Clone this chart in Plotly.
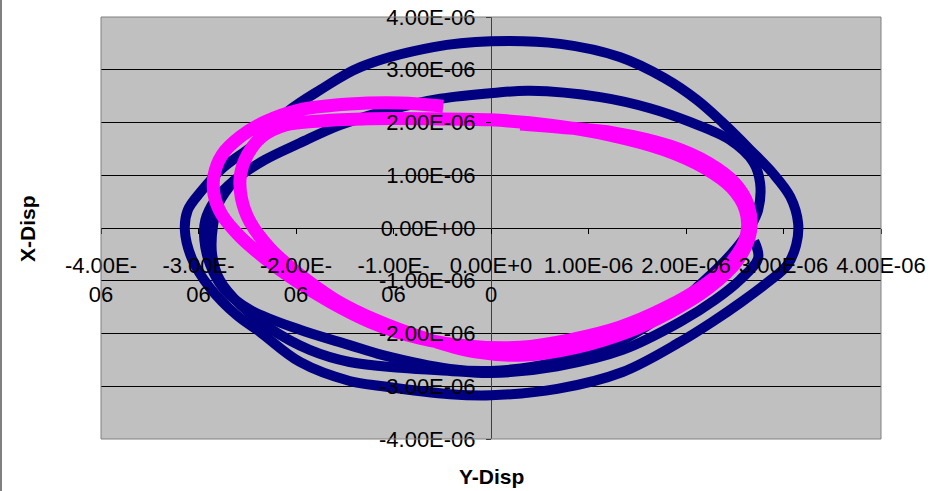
import plotly.graph_objects as go

SCALE = 1e-6  # values below are in units of 1e-6

# Navy series (Series 1) - outer loop
navy_a_x = [0.00, 0.71, 1.32, 1.78, 2.11, 2.38, 2.66, 2.89, 3.07, 3.15, 3.13, 3.04, 2.83, 2.57, 2.27, 1.94, 1.35, 0.68, 0.00,
            -0.42, -1.11, -1.45, -1.96, -2.37, -2.61, -2.88, -3.07, -3.14, -3.11, -2.98, -2.75, -2.44, -2.09, -1.75, -1.34, -0.59, 0.00]
navy_a_y = [3.54, 3.49, 3.24, 2.84, 2.43, 1.99, 1.48, 1.04, 0.59, 0.09, -0.32, -0.70, -1.04, -1.40, -1.78, -2.16, -2.73, -3.05, -3.17,
            -3.15, -3.00, -2.90, -2.54, -1.97, -1.65, -1.14, -0.57, -0.04, 0.34, 0.68, 1.14, 1.57, 2.20, 2.62, 3.05, 3.43, 3.54]
# Navy series - inner loop
navy_b_x = [0.02, 0.40, 1.12, 1.63, 2.04, 2.45, 2.69, 2.76, 2.74, 2.66, 2.58, 2.38, 2.14, 1.84, 1.35, 0.68, 0.00,
            -0.42, -1.11, -1.45, -1.96, -2.47, -2.73, -2.88, -2.94, -2.93, -2.83, -2.63, -2.32, -1.96, -1.55, -1.04, -0.52, 0.02]
navy_b_y = [2.56, 2.60, 2.48, 2.27, 2.01, 1.67, 1.25, 0.85, 0.34, 0.02, -0.23, -0.66, -1.08, -1.55, -2.12, -2.54, -2.71,
            -2.67, -2.41, -2.22, -1.93, -1.55, -1.18, -0.70, -0.23, 0.15, 0.53, 0.91, 1.29, 1.61, 1.95, 2.24, 2.45, 2.56]
# Navy series - partial middle loop
navy_c_x = [-2.63, -2.79, -2.85, -2.86, -2.78, -2.57, -2.27, -1.86, -1.45, -0.93, -0.42, 0.00, 0.68, 1.35, 1.94, 2.30,
            2.55, 2.74, 2.70]
navy_c_y = [0.91, 0.48, 0.06, -0.51, -0.99, -1.46, -1.90, -2.31, -2.54, -2.65, -2.71, -2.75, -2.62, -2.31, -1.78, -1.36,
            -0.99, -0.57, -0.25]

# Magenta series (Series 2)
magenta_x = [-0.49, -0.93, -1.45, -1.96, -2.32, -2.57, -2.76, -2.84, -2.84, -2.76, -2.57, -2.32, -2.01, -1.65, -1.24, -0.73, -0.22,
             0.30, 0.81, 1.32, 1.78, 2.19, 2.48, 2.62, 2.61, 2.47, 2.19, 1.78, 1.22, 0.61, -0.01,
             -0.63, -1.24, -1.75, -2.11, -2.35, -2.50, -2.57, -2.56, -2.47, -2.27, -1.96, -1.60, -1.19, -0.68, -0.16,
             0.35, 0.86, 1.37, 1.82, 2.23, 2.53, 2.66, 2.64, 2.50, 2.23, 1.84, 1.27, 0.71, 0.30]
magenta_y = [2.31, 2.37, 2.35, 2.24, 2.01, 1.73, 1.38, 1.00, 0.63, 0.25, -0.17, -0.57, -0.99, -1.40, -1.78, -2.09, -2.24,
             -2.26, -2.12, -1.88, -1.52, -1.08, -0.61, -0.13, 0.34, 0.76, 1.14, 1.48, 1.76, 1.95, 2.05,
             2.07, 2.07, 2.03, 1.95, 1.73, 1.38, 1.00, 0.57, 0.11, -0.38, -0.89, -1.36, -1.74, -2.09, -2.35,
             -2.41, -2.27, -1.99, -1.61, -1.14, -0.61, -0.08, 0.42, 0.85, 1.23, 1.55, 1.80, 1.91, 1.97]

tick_vals = [-4, -3, -2, -1, 0, 1, 2, 3, 4]
x_tick_text = ["-4.00E-<br>06", "-3.00E-<br>06", "-2.00E-<br>06", "-1.00E-<br>06", "0.00E+0<br>0",
               "1.00E-06", "2.00E-06", "3.00E-06", "4.00E-06"]
y_tick_text = ["-4.00E-06", "-3.00E-06", "-2.00E-06", "-1.00E-06", "0.00E+00",
               "1.00E-06", "2.00E-06", "3.00E-06", "4.00E-06"]


def sc(v):
    return [None if a is None else a * SCALE for a in v]


navy_x = navy_a_x + [None] + navy_b_x + [None] + navy_c_x
navy_y = navy_a_y + [None] + navy_b_y + [None] + navy_c_y

FONT = "Liberation Sans, Arial, sans-serif"
TICK_SIZE = 22

fig = go.Figure()
fig.add_trace(go.Scatter(x=sc(navy_x), y=sc(navy_y), mode="lines",
                         line=dict(color="#000080", width=10, shape="spline", smoothing=1.0),
                         connectgaps=False, name="Series1", hoverinfo="skip"))
fig.add_trace(go.Scatter(x=sc(magenta_x), y=sc(magenta_y), mode="lines",
                         line=dict(color="#FF00FF", width=13, shape="spline", smoothing=1.0),
                         name="Series2", hoverinfo="skip"))

fig.update_layout(
    width=943, height=491,
    margin=dict(l=101, r=62, t=17, b=52, autoexpand=False),
    paper_bgcolor="white", plot_bgcolor="#C0C0C0",
    showlegend=False,
    font=dict(family=FONT, size=TICK_SIZE, color="black"),
    xaxis=dict(range=[-4 * SCALE, 4 * SCALE], tickvals=sc(tick_vals), ticktext=x_tick_text,
               anchor="free", position=0.5, showgrid=False, showline=False, automargin=False,
               zeroline=True, zerolinecolor="#404040", zerolinewidth=1,
               ticks="outside", ticklen=5, tickcolor="black", tickwidth=1,
               tickfont=dict(family=FONT, size=TICK_SIZE, color="black"), ticklabelstandoff=13),
    yaxis=dict(range=[-4 * SCALE, 4 * SCALE], tickvals=sc(tick_vals), ticktext=y_tick_text,
               anchor="free", position=0.5, showgrid=True, gridcolor="black", gridwidth=1,
               showline=False, zeroline=False, automargin=False,
               ticks="outside", ticklen=5, tickcolor="black", tickwidth=1,
               tickfont=dict(family=FONT, size=TICK_SIZE, color="black"), ticklabelstandoff=6),
)

# plot-area border (gray) and chart-area left edge
fig.add_shape(type="rect", xref="paper", yref="paper", x0=0, x1=1, y0=0, y1=1,
              line=dict(color="#808080", width=1), layer="above")
fig.add_shape(type="line", xref="paper", yref="paper", x0=-0.1282, x1=-0.1282, y0=-0.125, y1=1.045,
              line=dict(color="#808080", width=2))

fig.add_annotation(text="<b>X-Disp</b>", xref="paper", yref="paper", x=-0.095, y=0.5,
                   xanchor="center", yanchor="middle",
                   textangle=-90, showarrow=False, font=dict(family=FONT, size=21, color="black"))
fig.add_annotation(text="<b>Y-Disp</b>", xref="paper", yref="paper", x=0.5, y=-0.09,
                   xanchor="center", yanchor="middle",
                   showarrow=False, font=dict(family=FONT, size=21, color="black"))

fig.write_html("out.html", config={"displayModeBar": False, "staticPlot": True},
               post_script="document.body.style.margin='0px';document.body.style.overflow='hidden';")
